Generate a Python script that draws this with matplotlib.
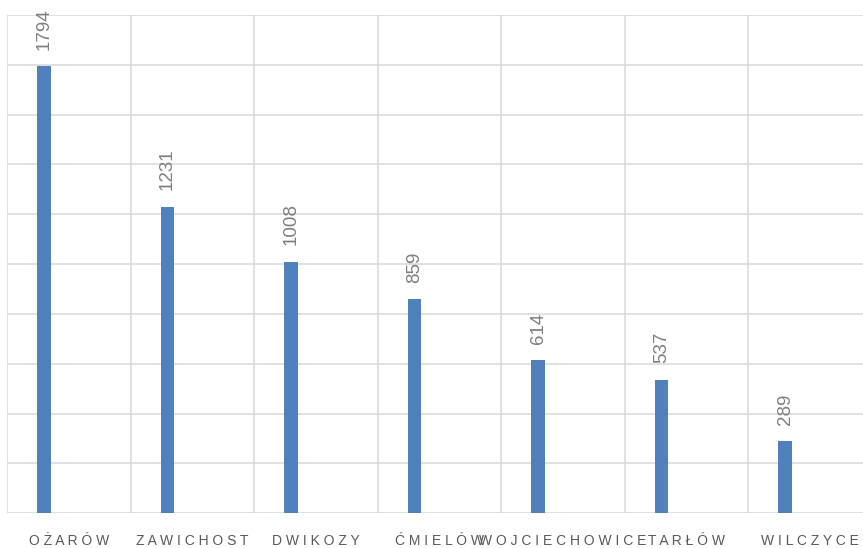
import numpy as np
import matplotlib.pyplot as plt

gminy = ['OŻARÓW', 'ZAWICHOST', 'DWIKOZY', 'ĆMIELÓW', 'WOJCIECHOWICE', 'TARŁÓW', 'WILCZYCE']
wartosci = [1794, 1231, 1008, 859, 614, 537, 289]

kolor_slupka = '#4f81bd'
kolor_siatki = '#d9d9d9'
kolor_tekstu = '#595959'
kolor_etykiet = '#7f7f7f'

plt.rcParams['font.family'] = ['Liberation Sans', 'DejaVu Sans']

fig = plt.figure(figsize=(8.63, 5.48), dpi=100)
# obszar wykresu wychodzi troche poza prawa krawedz, jak w oryginale
ax = fig.add_axes([7 / 863, 34.7 / 548, 864.5 / 863, 498.3 / 548])

x = np.arange(len(gminy))
slupki = ax.bar(x - 0.2, wartosci, width=0.11, color=kolor_slupka, zorder=3)

for xi, v in zip(x, wartosci):
    ax.annotate(str(v), (xi - 0.2, v), xytext=(0, 12), textcoords='offset points',
                rotation=90, ha='center', va='bottom', fontsize=13.5,
                color=kolor_etykiet)

ax.set_xlim(-0.5, len(gminy) - 0.5)
ax.set_ylim(0, 2000)
ax.set_yticks(np.arange(0, 2001, 200))
ax.set_yticklabels([])
ax.set_xticks(x)
ax.set_xticklabels([' '.join(g) for g in gminy], fontsize=10, color=kolor_tekstu)
ax.set_xticks(np.arange(-0.5, len(gminy)), minor=True)
ax.tick_params(axis='both', which='both', length=0)
ax.tick_params(axis='x', which='major', pad=15)
ax.grid(axis='y', which='major', color=kolor_siatki, linewidth=1.1, zorder=0)
ax.grid(axis='x', which='minor', color=kolor_siatki, linewidth=1.1, zorder=0)
for s in ax.spines.values():
    s.set_visible(False)

plt.savefig('out.png')
